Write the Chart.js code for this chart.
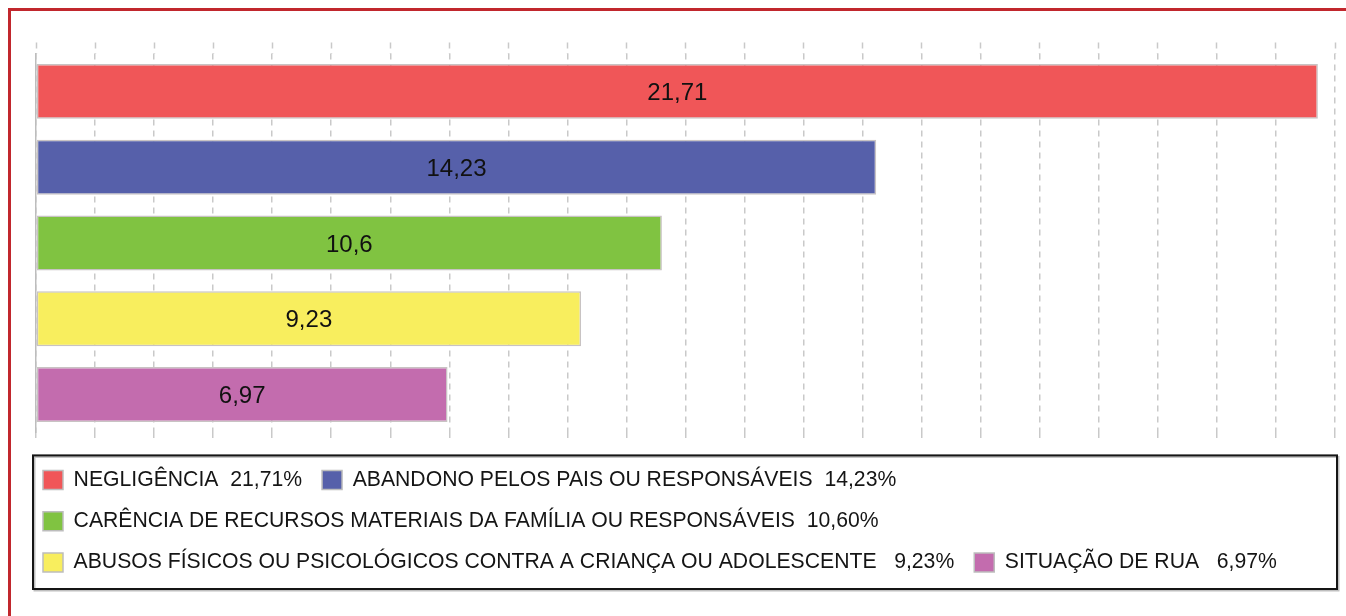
<!DOCTYPE html>
<html><head><meta charset="utf-8">
<script src="https://cdn.jsdelivr.net/npm/chart.js@4.4.0/dist/chart.umd.min.js"></script>
<style>
html,body{margin:0;padding:0;background:#fff;}
#wrap{position:relative;width:1346px;height:616px;overflow:hidden;}
#frame{position:absolute;left:8px;top:8px;width:2000px;height:2000px;border-top:3px solid #c1272d;border-left:3px solid #c1272d;pointer-events:none;}
canvas{position:absolute;left:0;top:0;}
</style></head><body>
<div id="wrap"><canvas id="c" width="1346" height="616"></canvas><div id="frame"></div></div>
<script>
const categories = ['NEGLIGÊNCIA', 'ABANDONO PELOS PAIS OU RESPONSÁVEIS', 'CARÊNCIA DE RECURSOS MATERIAIS DA FAMÍLIA OU RESPONSÁVEIS', 'ABUSOS FÍSICOS OU PSICOLÓGICOS CONTRA A CRIANÇA OU ADOLESCENTE', 'SITUAÇÃO DE RUA'];
const values = [21.71, 14.23, 10.6, 9.23, 6.97];
const valueLabels = ['21,71', '14,23', '10,6', '9,23', '6,97'];
const legendLabels = ['NEGLIGÊNCIA  21,71%', 'ABANDONO PELOS PAIS OU RESPONSÁVEIS  14,23%', 'CARÊNCIA DE RECURSOS MATERIAIS DA FAMÍLIA OU RESPONSÁVEIS  10,60%', 'ABUSOS FÍSICOS OU PSICOLÓGICOS CONTRA A CRIANÇA OU ADOLESCENTE   9,23%', 'SITUAÇÃO DE RUA   6,97%'];
const barColors = ['#f05658', '#5660aa', '#80c341', '#f8ee5e', '#c36cae'];
const axisMin = 0;
const axisMax = 22;
const axisStep = 1;

const FONT = '"Liberation Sans", Arial, Helvetica, sans-serif';
const GRID = '#c9c9c9';

const valueLabelPlugin = {
  id: 'valueLabels',
  afterDatasetsDraw(chart) {
    const ctx = chart.ctx;
    const meta = chart.getDatasetMeta(0);
    ctx.save();
    ctx.font = '24px ' + FONT;
    ctx.fillStyle = '#111';
    ctx.textAlign = 'center';
    ctx.textBaseline = 'middle';
    meta.data.forEach((bar, i) => {
      const p = bar.getProps(['x', 'y', 'base'], true);
      ctx.fillText(valueLabels[i], (p.x + p.base) / 2, p.y + 2);
    });
    ctx.restore();
  }
};

const legendBoxPlugin = {
  id: 'legendBox',
  afterDraw(chart) {
    const lg = chart.legend;
    const hb = lg.legendHitBoxes;
    if (!hb || !hb.length) return;
    const ctx = chart.ctx;
    const area = chart.chartArea;
    const last = hb[hb.length - 1];
    const top = hb[0].top - 14;
    const bottom = last.top + last.height + 16;
    const left = area.left - 3;
    const right = area.right + 2;
    ctx.save();
    ctx.strokeStyle = 'rgba(0,0,0,0.25)';
    ctx.lineWidth = 2;
    ctx.strokeRect(left + 1.5, top + 1.5, right - left, bottom - top);
    ctx.strokeStyle = '#151515';
    ctx.lineWidth = 2;
    ctx.strokeRect(left, top, right - left, bottom - top);
    ctx.restore();
  }
};

new Chart(document.getElementById('c'), {
  type: 'bar',
  data: {
    labels: categories,
    datasets: [{
      data: values,
      backgroundColor: barColors,
      borderColor: '#c8c3c3',
      borderWidth: 1.5,
      borderSkipped: false,
      barPercentage: 0.725,
      categoryPercentage: 1
    }]
  },
  options: {
    indexAxis: 'y',
    responsive: false,
    animation: false,
    layout: { padding: { left: 23, right: 11, top: 42.5, bottom: 33 } },
    scales: {
      x: {
        position: 'bottom',
        min: axisMin, max: axisMax,
        ticks: { stepSize: axisStep, callback: () => '', font: { size: 9, lineHeight: 1 }, padding: 0 },
        grid: { color: GRID, lineWidth: 1.5, drawTicks: true, tickLength: 8, tickColor: GRID, tickWidth: 1.5, tickBorderDash: [6, 5] },
        border: { display: false, dash: [6, 5] }
      },
      x2: {
        axis: 'x',
        position: 'top',
        min: axisMin, max: axisMax,
        ticks: { display: false, stepSize: axisStep },
        grid: { drawOnChartArea: false, drawTicks: true, tickLength: 11, tickColor: GRID, tickWidth: 1.5, tickBorderDash: [6, 5] },
        border: { display: false }
      },
      y: {
        ticks: { display: false },
        grid: { display: true, drawOnChartArea: false, drawTicks: true, tickLength: 13, tickColor: 'rgba(0,0,0,0)' },
        border: { display: true, color: '#bdbdbd', width: 1.5 }
      }
    },
    plugins: {
      legend: {
        position: 'bottom',
        align: 'start',
        labels: {
          boxWidth: 20,
          boxHeight: 19,
          padding: 20,
          color: '#151515',
          font: { family: FONT, size: 21.2 },
          generateLabels: () => legendLabels.map((t, i) => ({
            text: t, fillStyle: barColors[i], strokeStyle: '#bdbdbd', lineWidth: 1.5, hidden: false, index: i, fontColor: '#151515'
          }))
        }
      },
      tooltip: { enabled: false }
    }
  },
  plugins: [valueLabelPlugin, legendBoxPlugin]
});
</script>
</body></html>
